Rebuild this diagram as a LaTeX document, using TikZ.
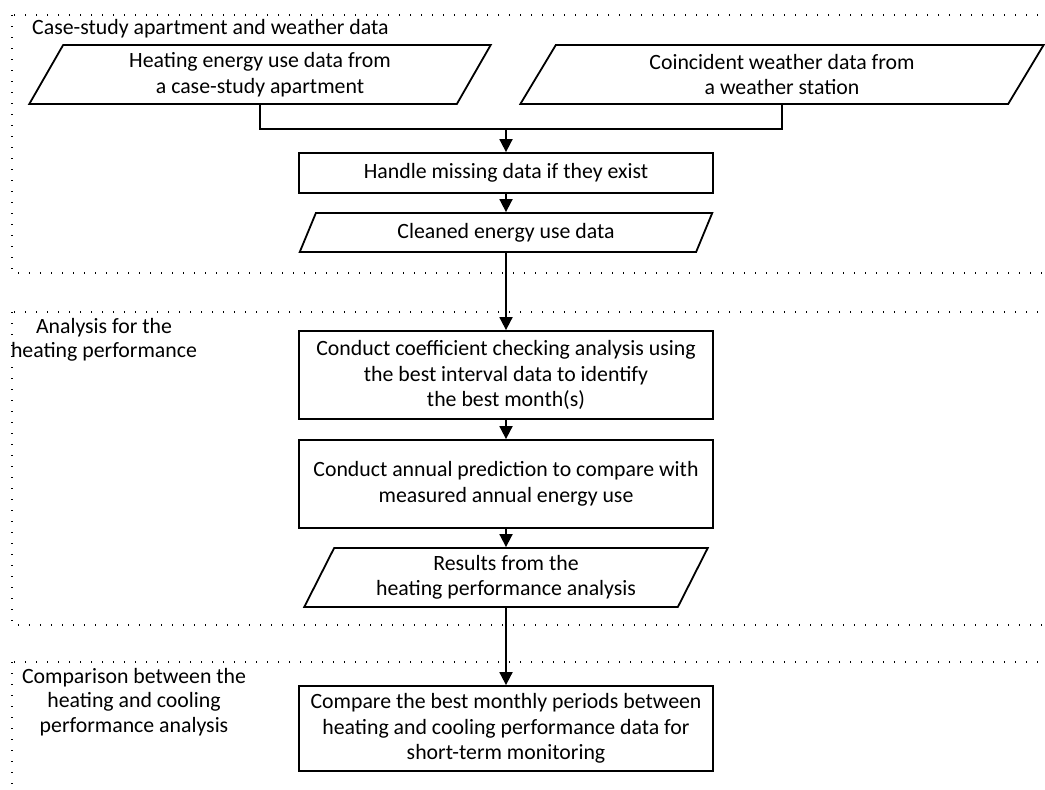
\documentclass[tikz,border=0pt]{standalone}
\usepackage{fontspec}
\setmainfont{Carlito}
\usepackage{tikz}
\usetikzlibrary{shapes.geometric,arrows.meta}
\tikzset{txt/.style={font=\fontsize{21.8}{25.5}\selectfont,align=center,inner sep=0pt},
  proc/.style={txt,draw,line width=1.8pt,rectangle,minimum width=414pt},
  io/.style={txt,draw,line width=1.8pt,trapezium,trapezium stretches=true,trapezium left angle=63,trapezium right angle=117},
  arr/.style={line width=1.8pt,-{Triangle[length=13pt,width=13pt]}},
  link/.style={line width=1.8pt},
  frame/.style={line width=1.4pt,dash pattern=on 1.4pt off 9.6pt},
  lbl/.style={font=\fontsize{21.8}{24.5}\selectfont,align=center,inner sep=1pt}}

\begin{document}
\begin{tikzpicture}[x=1pt,y=-1pt]
\useasboundingbox (0,0) rectangle (1045,790); \clip (0,0) rectangle (1045,790);
% dotted section frames
\draw[frame] (12,15) rectangle (1070,273); \draw[frame] (12,312) rectangle (1070,625); \draw[frame] (12,662) rectangle (1070,810);
\node[lbl,anchor=west] (sec1) at (31,29) {Case-study apartment and weather data};
\node[lbl] (sec2) at (104,340) {Analysis for the\\heating performance};
\node[lbl] (sec3) at (134,702) {Comparison between the\\heating and cooling\\performance analysis};
% data inputs
\node[io,minimum width=463pt,minimum height=59pt] (heat) at (260,74.5) {Heating energy use data from\\a case-study apartment};
\node[io,minimum width=525pt,minimum height=59pt] (weather) at (782,74.5) {Coincident weather data from\\a weather station};
\coordinate (join) at (506,129);
\node[proc,minimum height=40pt] (handle) at (506,173) {Handle missing data if they exist};
\node[io,minimum width=413pt,minimum height=39pt,trapezium left angle=64,trapezium right angle=116] (clean) at (506,232.5) {Cleaned energy use data};
% heating analysis
\node[proc,minimum height=88pt] (coef) at (506,375) {Conduct coefficient checking analysis using\\the best interval data to identify\\the best month(s)};
\node[proc,minimum height=88pt] (annual) at (506,484) {Conduct annual prediction to compare with\\measured annual energy use};
\node[io,minimum width=405pt,minimum height=59pt] (result) at (506,577.5) {Results from the\\heating performance analysis};
\node[proc,minimum height=85pt] (compare) at (506,728.5) {Compare the best monthly periods between\\heating and cooling performance data for\\short-term monitoring};
% connectors
\draw[link] (heat.center |- heat.south) |- (join) -| (weather.center |- weather.south);
\draw[arr] (join) -- (handle.north);
\draw[arr] (handle.south) -- (handle.south |- clean.north);
\draw[arr] (coef.north |- clean.south) -- (coef.north);
\draw[arr] (coef.south) -- (annual.north);
\draw[arr] (annual.south) -- (annual.south |- result.north);
\draw[arr] (compare.north |- result.south) -- (compare.north);
\end{tikzpicture}
\end{document}
